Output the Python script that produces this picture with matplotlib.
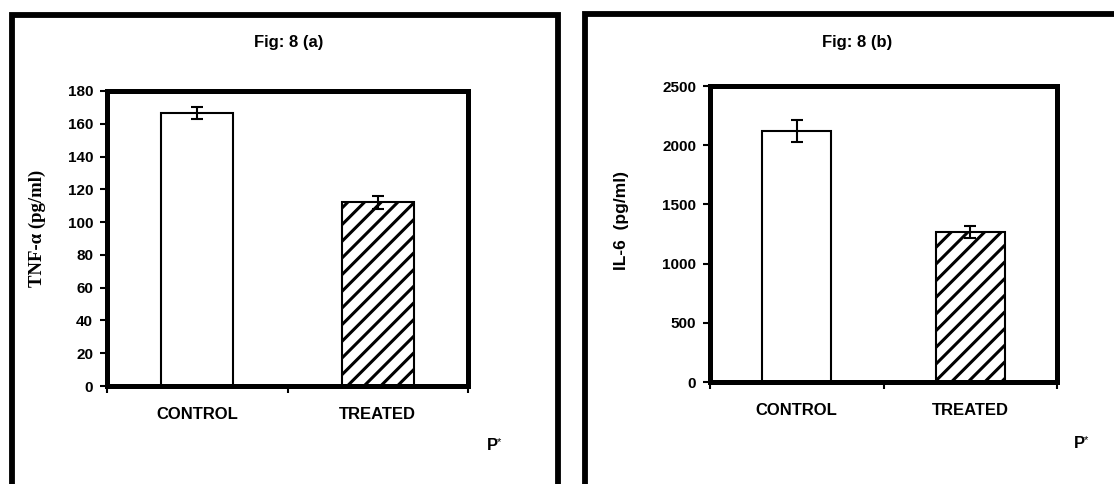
import matplotlib
matplotlib.use("Agg")
import matplotlib.pyplot as plt
from matplotlib.lines import Line2D

# ---- data ----
categories = ["CONTROL", "TREATED"]
tnf_values = [166.5, 112.0]
tnf_errors = [3.7, 4.0]
il6_values = [2120, 1268]
il6_errors = [90, 48]
tnf_ticks = [0, 20, 40, 60, 80, 100, 120, 140, 160, 180]
il6_ticks = [0, 500, 1000, 1500, 2000, 2500]
titles = ["Fig: 8 (a)", "Fig: 8 (b)"]
ylabels = ["TNF-\u03b1 (pg/ml)", "IL-6  (pg/ml)"]

plt.rcParams['font.family'] = ['Liberation Sans', 'DejaVu Sans']
plt.rcParams['hatch.linewidth'] = 2.2

W, H = 1114, 484
dpi = 100
fig = plt.figure(figsize=(W / dpi, H / dpi), dpi=dpi)

def px_axes(x0, y0, x1, y1):
    return fig.add_axes([x0 / W, 1 - y1 / H, (x1 - x0) / W, (y1 - y0) / H])

# overlay for the outer frames (pixel coordinates)
ov = fig.add_axes([0, 0, 1, 1])
ov.set_xlim(0, W)
ov.set_ylim(H, 0)
ov.axis('off')
frame_kw = dict(color='black', lw=4.2, solid_capstyle='projecting', solid_joinstyle='miter')
ov.add_line(Line2D([11.5, 11.5, 558, 558], [500, 15, 15, 500], **frame_kw))
ov.add_line(Line2D([585, 585, 1130], [500, 14, 14], **frame_kw))

def panel(ax, values, errors, ticks, ylabel, ylabel_family, ylabel_size, cat_y):
    x = range(len(categories))
    ax.bar(x, values, width=0.4, color='white', edgecolor='black', linewidth=1.5,
           hatch=[None, '//'], zorder=2)
    ax.errorbar(x, values, yerr=errors, fmt='none', ecolor='black', elinewidth=1.5,
                capsize=4, capthick=1.5, zorder=3)
    ax.set_xlim(-0.5, len(categories) - 0.5)
    ax.set_ylim(ticks[0], ticks[-1])
    ax.set_yticks(ticks)
    ax.set_yticklabels([str(t) for t in ticks], fontsize=11, fontweight='bold')
    ax.set_xticks([-0.5, 0.5, 1.5])
    ax.set_xticklabels([])
    for sp in ax.spines.values():
        sp.set_linewidth(3.6)
    ax.tick_params(axis='y', direction='out', length=5, width=1.5, pad=5)
    ax.tick_params(axis='x', direction='out', length=5, width=1.5)
    for i, c in enumerate(categories):
        ax.text(i, cat_y, c, transform=ax.get_xaxis_transform(), ha='center', va='center',
                fontsize=12, fontweight='bold')
    ax.set_ylabel(ylabel, fontsize=ylabel_size, fontweight='bold', family=ylabel_family)

axL = px_axes(107, 91, 468, 386)
panel(axL, tnf_values, tnf_errors, tnf_ticks, ylabels[0],
      ['Liberation Serif', 'DejaVu Serif'], 13.5, -0.095)
axL.yaxis.set_label_coords(-0.169, 0.536)

axR = px_axes(710, 86, 1057, 382)
panel(axR, il6_values, il6_errors, il6_ticks, ylabels[1],
      ['Liberation Sans', 'DejaVu Sans'], 12.5, -0.095)
axR.yaxis.set_label_coords(-0.233, 0.544)

# titles and P* notes
ov.text(289, 43, titles[0], ha='center', va='center', fontsize=12, fontweight='bold')
ov.text(857, 43, titles[1], ha='center', va='center', fontsize=12, fontweight='bold')
for px, py in [(492, 446), (1079, 444)]:
    ov.text(px, py, "P", ha='center', va='center', fontsize=12, fontweight='bold')
    ov.text(px + 5, py - 4, "*", ha='left', va='center', fontsize=8)

fig.savefig("out.png", dpi=dpi, facecolor='white')
